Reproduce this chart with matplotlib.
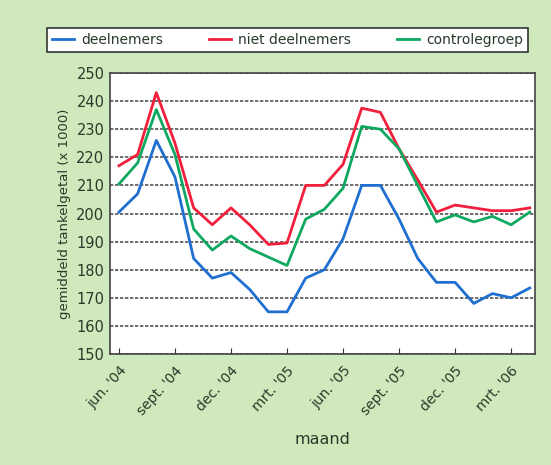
import matplotlib

matplotlib.use("Agg")
import matplotlib.pyplot as plt

# monthly values, jun '04 .. apr '06
months = list(range(23))
deelnemers = [200.5, 207, 226, 213, 184, 177, 179, 173, 165, 165, 177, 180,
              191, 210, 210, 198, 184, 175.5, 175.5, 168, 171.5, 170, 173.5]
niet_deelnemers = [217, 221, 243, 225, 202, 196, 202, 196, 189, 189.5, 210, 210,
                   217.5, 237.5, 236, 223, 212, 200.5, 203, 202, 201, 201, 202]
controlegroep = [210.5, 218, 237, 221, 194.5, 187, 192, 187.5, 184.5, 181.5, 198, 201.5,
                 209, 231, 230, 223, 210, 197, 199.5, 197, 199, 196, 200.5]

tick_pos = [0, 3, 6, 9, 12, 15, 18, 21]
tick_labels = ["jun. '04", "sept. '04", "dec. '04", "mrt. '05",
               "jun. '05", "sept. '05", "dec. '05", "mrt. '06"]
y_ticks = list(range(150, 251, 10))

BG = "#cfe8bc"
TXT = "#2a3a2a"
W, H = 551, 465

fig = plt.figure(figsize=(5.51, 4.65), dpi=100, facecolor=BG)
ax = fig.add_axes([0.1996, 0.2387, 0.7714, 0.6043])
ax.set_facecolor("white")

ax.plot(months, deelnemers, color="#1f6fd0", lw=2, label="deelnemers")
ax.plot(months, niet_deelnemers, color="#f0203c", lw=2, label="niet deelnemers")
ax.plot(months, controlegroep, color="#0fa860", lw=2, label="controlegroep")

ax.set_xlim(-0.48, 22.28)
ax.set_ylim(150, 250)
ax.set_yticks(y_ticks)
ax.set_xticks(tick_pos)
ax.set_xticklabels(tick_labels, rotation=48, ha="right", rotation_mode="anchor")
ax.tick_params(axis="x", direction="in", length=4, color="#333333",
               labelsize=10, labelcolor=TXT, pad=7)
ax.tick_params(axis="y", length=0, labelsize=10.5, labelcolor=TXT, pad=4)
ax.grid(axis="y", color="#555555", linestyle=(0, (2, 1)), lw=1.2)
ax.set_axisbelow(True)
for s in ax.spines.values():
    s.set_color("#444444")
    s.set_linewidth(1.2)

ax.set_xlabel("maand", fontsize=11.5, color=TXT, labelpad=10)
ax.set_ylabel("gemiddeld tankelgetal (x 1000)", fontsize=9.5, color=TXT, labelpad=4)

# legend box spans nearly the full figure width above the plot
leg = fig.legend(loc="center", bbox_to_anchor=(40 / W, 1 - 53 / H, 495 / W, 26 / H),
                 mode="expand", ncol=3, frameon=True, fancybox=False,
                 fontsize=10, handlelength=1.6, handletextpad=0.5, borderpad=0.35)
leg.get_frame().set_edgecolor("#333333")
leg.get_frame().set_facecolor("white")
leg.get_frame().set_alpha(1)
leg.get_frame().set_linewidth(1.2)
for t in leg.get_texts():
    t.set_color(TXT)

fig.savefig("out.png", dpi=100, facecolor=BG)
